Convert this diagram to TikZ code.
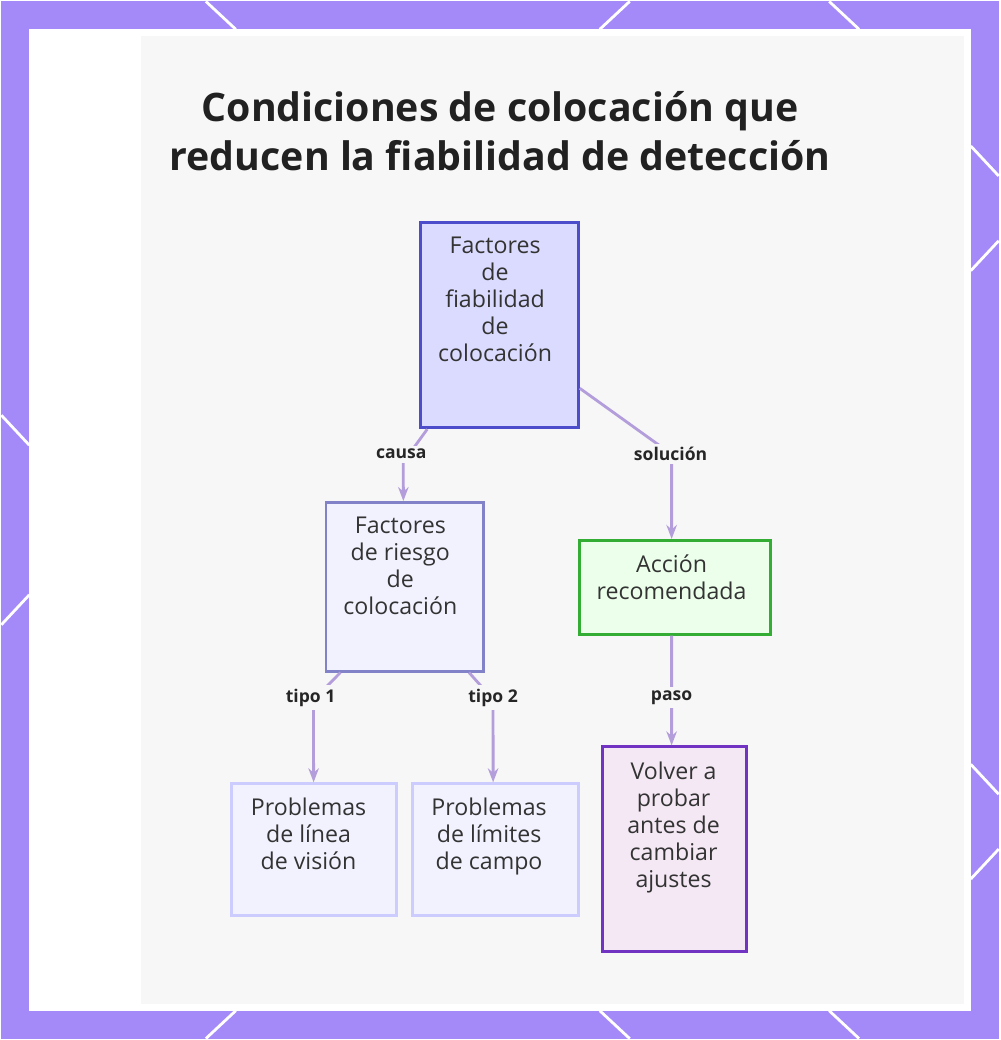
\documentclass[tikz,border=0pt]{standalone}
\usepackage{fontspec}
\setmainfont{Open Sans}
\usetikzlibrary{arrows.meta}
\definecolor{bgpurple}{HTML}{A48AF8}
\definecolor{panel}{HTML}{F7F7F7}
\definecolor{linkcol}{HTML}{B39DDB}

\begin{document}
\begin{tikzpicture}[x=0.01cm, y=-0.01cm,
    box/.style={draw, thick, anchor=north west, inner sep=0pt},
    txt/.style={align=center, anchor=north, font=\fontsize{6.6}{7.7}\selectfont, text=black!80},
    lbl/.style={fill=panel, inner sep=1pt, font=\bfseries\fontsize{5}{6}\selectfont, text=black!85},
    link/.style={draw=linkcol, thick, -{Stealth[length=4pt,width=3pt]}}]
  % frame and panel
  \fill [bgpurple] (0,0) rectangle (1000,1040);
  \foreach \a/\b/\c/\d in {205/0/235/28, 630/0/600/28, 830/0/860/28, 0/415/28/445, 0/625/28/595,
      972/145/1000/175, 972/270/1000/240, 972/765/1000/795, 972/880/1000/850,
      235/1012/205/1040, 600/1012/630/1040, 830/1012/860/1040}
    \draw [white, thick] (\a,\b) -- (\c,\d);
  \fill [white] (28,28) rectangle (972,1012);
  \fill [panel] (140,35) rectangle (965,1005);
  \node [font=\bfseries\fontsize{11.2}{14}\selectfont, align=center, text=black!87] (title) at (500,130)
    {Condiciones de colocación que\\reducen la fiabilidad de detección};
  % boxes
  \node [box, draw=blue!55!gray!90, fill=blue!14, minimum width=1.58cm, minimum height=2.06cm] (top) at (419,220) {};
  \node [txt] (topT) at (495,224) {Factores\\de\\fiabilidad\\de\\colocación};
  \node [box, draw=blue!40!gray!70, fill=blue!5, minimum width=1.58cm, minimum height=1.69cm] (risk) at (324,501) {};
  \node [txt] (riskT) at (400,505) {Factores\\de riesgo\\de\\colocación};
  \node [box, draw=green!60!black!80, fill=green!8, minimum width=1.92cm, minimum height=0.94cm] (act) at (578,539) {};
  \node [txt] (actT) at (672,542) {Acción\\recomendada};
  \node [box, draw=blue!20, fill=blue!5, minimum width=1.66cm, minimum height=1.32cm] (los) at (229,783) {};
  \node [txt] (losT) at (308,786) {Problemas\\de línea\\de visión};
  \node [box, draw=blue!20, fill=blue!5, minimum width=1.66cm, minimum height=1.32cm] (fov) at (411,783) {};
  \node [txt] (fovT) at (489,786) {Problemas\\de límites\\de campo};
  \node [box, draw=violet!60!blue!80, fill=violet!9, minimum width=1.45cm, minimum height=2.05cm] (retest) at (601,746) {};
  \node [txt] (retestT) at (674,750) {Volver a\\probar\\antes de\\cambiar\\ajustes};
  % connectors
  \draw [link] ([xshift=0.08cm]top.south west) -- (403,462) -- ([xshift=0.79cm]risk.north west);
  \draw [link] ([yshift=0.41cm]top.south east) -- (672,454) -- ([xshift=0.94cm]act.north west);
  \draw [link] ([xshift=0.16cm]risk.south west) -- (313,700) -- ([xshift=0.84cm]los.north west);
  \draw [link] ([xshift=-0.16cm]risk.south east) -- (493,700) -- ([xshift=0.82cm]fov.north west);
  \draw [link] ([xshift=0.94cm]act.south west) -- ([xshift=0.71cm]retest.north west);
  % labels
  \node [lbl] (causa) at (401,454) {causa};
  \node [lbl] (sol) at (671,454) {solución};
  \node [lbl] (t1) at (310,698) {tipo 1};
  \node [lbl] (t2) at (493,698) {tipo 2};
  \node [lbl] (paso) at (672,698) {paso};
\end{tikzpicture}
\end{document}
